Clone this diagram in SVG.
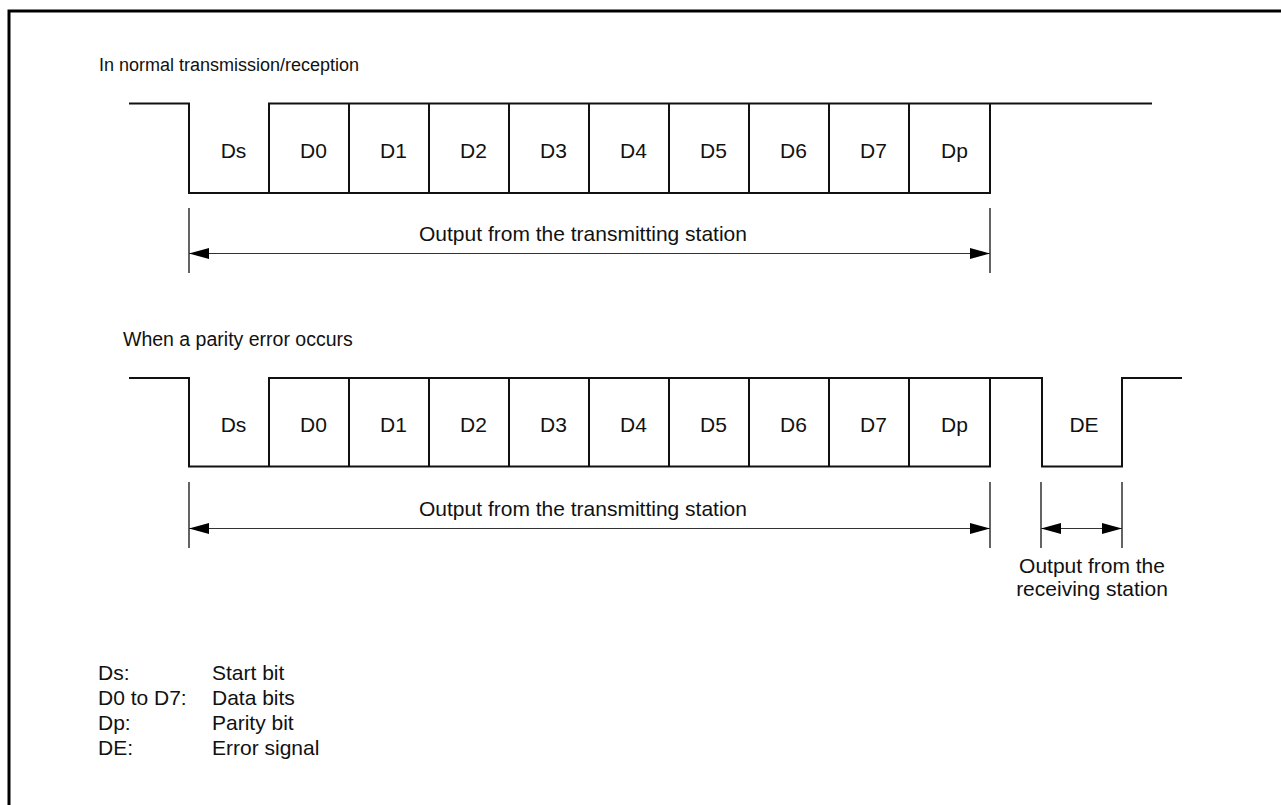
<svg xmlns="http://www.w3.org/2000/svg" width="1281" height="805" viewBox="0 0 1281 805">
<defs>
<style>
text{font-family:"Liberation Sans",Arial,sans-serif;font-size:21px;fill:#111}
.c{text-anchor:middle}
.t{font-size:18px}
.t2{font-size:19.5px}
.w{fill:none;stroke:#111;stroke-width:2}
.d{fill:none;stroke:#333;stroke-width:1.2}
.x{fill:none;stroke:#111;stroke-width:1.3}
</style>
<marker id="ah" viewBox="0 0 20 11" refX="20" refY="5.5" markerWidth="20" markerHeight="11" markerUnits="userSpaceOnUse" orient="auto-start-reverse">
<path d="M0,0 L20,5.5 L0,11 Z" fill="#000"/>
</marker>
</defs>
<rect width="1281" height="805" fill="#fff"/>
<path id="frame" d="M9,805 V11 H1281" fill="none" stroke="#000" stroke-width="3"/>

<g id="title1"><text class="t" x="99" y="71">In normal transmission/reception</text></g>
<g id="title2"><text class="t2" x="123" y="346">When a parity error occurs</text></g>

<g id="wave1">
<path class="w" d="M129,103.5 H189 V193 H990 V103.5 M269,193 V103.5 H1152"/>
<path class="w" d="M349,103.5 V193 M429,103.5 V193 M509,103.5 V193 M589,103.5 V193 M669,103.5 V193 M749,103.5 V193 M829,103.5 V193 M909,103.5 V193"/>
<g class="c">
<text x="233.5" y="158">Ds</text><text x="313.5" y="158">D0</text><text x="393.5" y="158">D1</text><text x="473.5" y="158">D2</text><text x="553.5" y="158">D3</text><text x="633.5" y="158">D4</text><text x="713.5" y="158">D5</text><text x="793.5" y="158">D6</text><text x="873.5" y="158">D7</text><text x="954.5" y="158">Dp</text>
</g>
</g>

<g id="wave2">
<path class="w" d="M129,378 H189 V466.5 H990 V378 M269,466.5 V378 H1042 V466.5 H1122 V378 H1182"/>
<path class="w" d="M349,378 V466.5 M429,378 V466.5 M509,378 V466.5 M589,378 V466.5 M669,378 V466.5 M749,378 V466.5 M829,378 V466.5 M909,378 V466.5"/>
<g class="c">
<text x="233.5" y="432">Ds</text><text x="313.5" y="432">D0</text><text x="393.5" y="432">D1</text><text x="473.5" y="432">D2</text><text x="553.5" y="432">D3</text><text x="633.5" y="432">D4</text><text x="713.5" y="432">D5</text><text x="793.5" y="432">D6</text><text x="873.5" y="432">D7</text><text x="954.5" y="432">Dp</text><text x="1084" y="432">DE</text>
</g>
</g>

<g id="connectors">
<path class="x" d="M189,208 V273 M990,208 V273"/>
<line class="d" x1="189" y1="253.5" x2="990" y2="253.5" marker-start="url(#ah)" marker-end="url(#ah)"/>
<path class="x" d="M189,482 V548 M990,482 V548 M1041,482 V548 M1122,482 V548"/>
<line class="d" x1="189" y1="528.5" x2="990" y2="528.5" marker-start="url(#ah)" marker-end="url(#ah)"/>
<line class="d" x1="1041" y1="528.5" x2="1122" y2="528.5" marker-start="url(#ah)" marker-end="url(#ah)"/>
</g>

<g id="label1"><text class="c" x="583" y="241">Output from the transmitting station</text></g>
<g id="label2"><text class="c" x="583" y="516">Output from the transmitting station</text></g>
<g id="label3" class="c"><text x="1092" y="573">Output from the</text><text x="1092" y="596">receiving station</text></g>

<g id="legend">
<text x="98" y="680">Ds:</text><text x="212" y="680">Start bit</text>
<text x="98" y="705">D0 to D7:</text><text x="212" y="705">Data bits</text>
<text x="98" y="730">Dp:</text><text x="212" y="730">Parity bit</text>
<text x="98" y="755">DE:</text><text x="212" y="755">Error signal</text>
</g>
</svg>
